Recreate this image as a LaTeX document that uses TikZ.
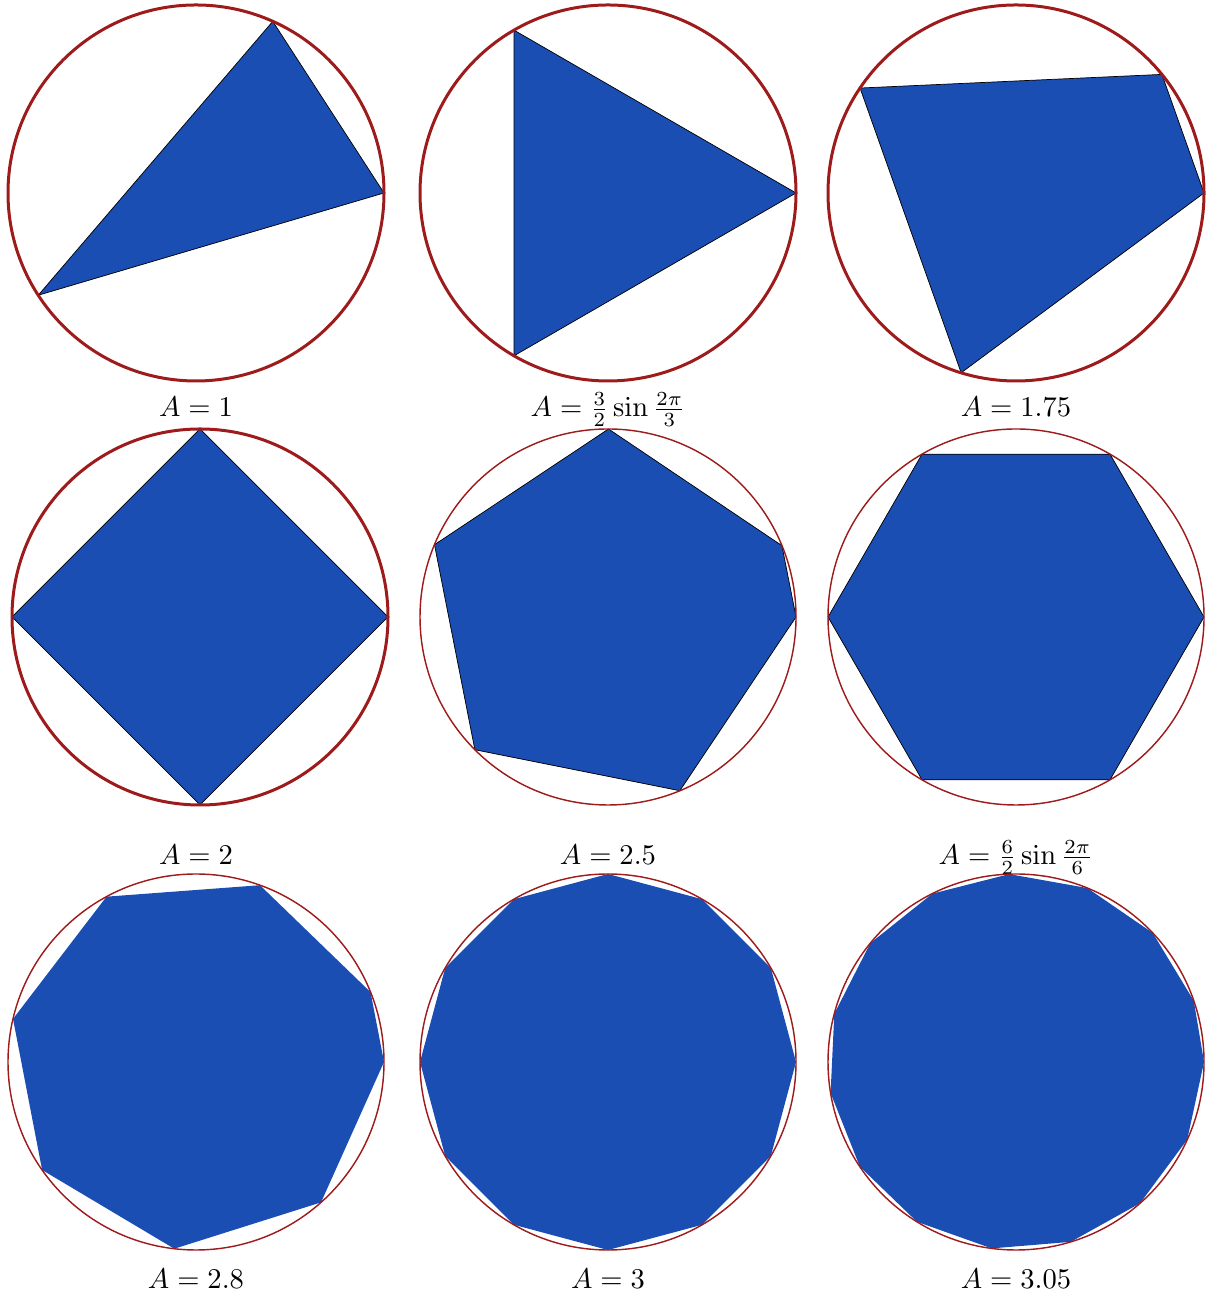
\documentclass[tikz,border=0pt]{standalone}
\usepackage{amsmath,amssymb}
\usepackage{xcolor}
\definecolor{ringred}{HTML}{9E1B1B}
\definecolor{polyblue}{HTML}{1A4EB2}
\usepackage{tikz}
\usetikzlibrary{positioning}

\begin{document}
\begin{tikzpicture}[x=0.35pt, y=0.35pt,
  ring/.style={draw=ringred, line width=1.05pt},
  ringthin/.style={draw=ringred, line width=0.5pt},
  poly/.style={fill=polyblue, draw=black, line width=0.25pt},
  polyplain/.style={fill=polyblue},
  area/.style={anchor=base}]
  \useasboundingbox (0,0) rectangle (1207,1296);

  % first row
  \filldraw[poly, shift={(196,1103)}] (0:188) -- (65.9:188) -- (212.95:188) -- cycle;
  \draw[ring] (196,1103) circle (188);
  \node[area] (lbl1) at (196,879) {$A=1$};

  \filldraw[poly, shift={(608,1103)}] (0:188) -- (120:188) -- (240:188) -- cycle;
  \draw[ring] (608,1103) circle (188);
  \node[area] (lbl2) at (608,879) {$A=\frac{3}{2}\sin\frac{2\pi}{3}$};

  \filldraw[poly, shift={(1016,1103)}] (0:188) -- (39.1:188) -- (146.07:188) -- (253.03:188) -- cycle;
  \draw[ring] (1016,1103) circle (188);
  \node[area] (lbl3) at (1016,879) {$A=1.75$};

  % second row
  \filldraw[poly, shift={(200,679)}] (0:188) -- (90:188) -- (180:188) -- (270:188) -- cycle;
  \draw[ring] (200,679) circle (188);
  \node[area] (lbl4) at (196,431) {$A=2$};

  \filldraw[poly, shift={(608,679)}] (0:188) -- (22.3:188) -- (89.84:188) -- (157.38:188)
     -- (224.92:188) -- (292.46:188) -- cycle;
  \draw[ringthin] (608,679) circle (188);
  \node[area] (lbl5) at (608,431) {$A=2.5$};

  \filldraw[poly, shift={(1016,679)}] (0:188) -- (60:188) -- (120:188) -- (180:188)
     -- (240:188) -- (300:188) -- cycle;
  \draw[ringthin] (1016,679) circle (188);
  \node[area] (lbl6) at (1016,431) {$A=\frac{6}{2}\sin\frac{2\pi}{6}$};

  % third row
  \fill[polyplain, shift={(196,234)}] (0:188) -- (21.8:188) -- (70.11:188) -- (118.43:188)
     -- (166.74:188) -- (215.06:188) -- (263.37:188) -- (311.69:188) -- cycle;
  \draw[ringthin] (196,234) circle (188);
  \node[area] (lbl7) at (196,7.5) {$A=2.8$};

  \fill[polyplain, shift={(608,234)}] (0:188) \foreach \k in {1,...,11} { -- (\k*30:188) } -- cycle;
  \draw[ringthin] (608,234) circle (188);
  \node[area] (lbl8) at (608,7.5) {$A=3$};

  \fill[polyplain, shift={(1016,234)}] (0:188) -- (19:188)
     \foreach \k in {1,...,13} { -- (19+\k*24.357:188) } -- cycle;
  \draw[ringthin] (1016,234) circle (188);
  \node[area] (lbl9) at (1016,7.5) {$A=3.05$};

\end{tikzpicture}
\end{document}
